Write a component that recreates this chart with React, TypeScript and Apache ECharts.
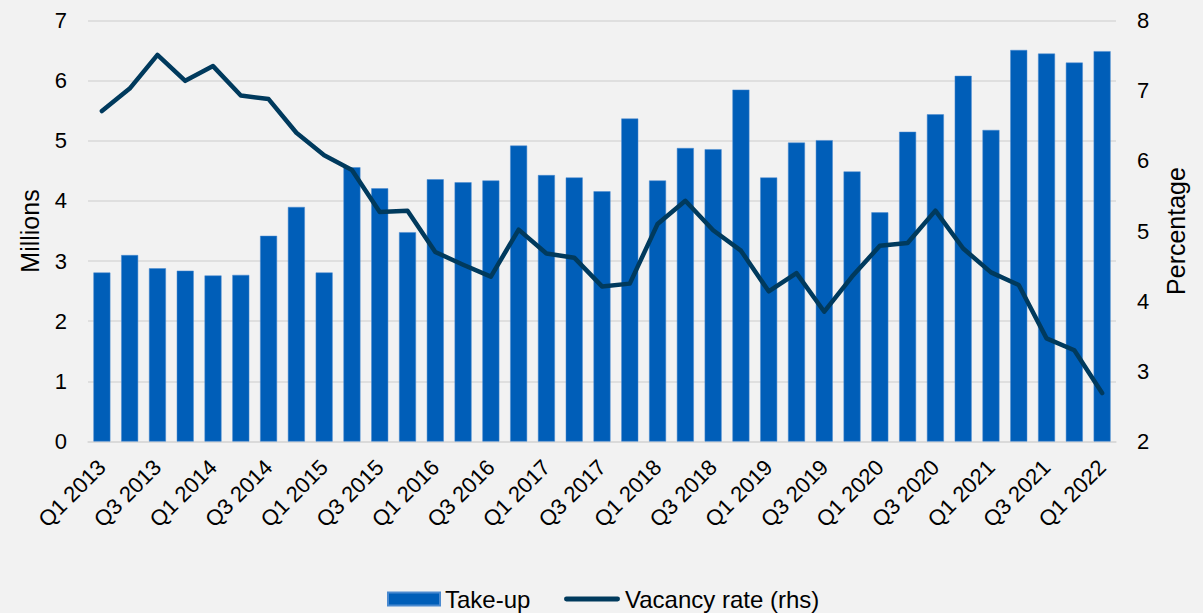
import React, { useEffect, useRef } from "react";
import * as echarts from "echarts";

const quarters: string[] = [];
const years = [2013, 2014, 2015, 2016, 2017, 2018, 2019, 2020, 2021, 2022];
for (const y of years) {
  for (const q of [1, 2, 3, 4]) {
    if (y === 2022 && q > 1) break;
    quarters.push(`Q${q} ${y}`);
  }
}

const takeUp = [
  2.81, 3.1, 2.88, 2.84, 2.76, 2.77, 3.42, 3.9, 2.81, 4.56, 4.21, 3.48,
  4.36, 4.31, 4.34, 4.92, 4.43, 4.39, 4.16, 5.37, 4.34, 4.88, 4.86, 5.85,
  4.39, 4.97, 5.01, 4.49, 3.81, 5.15, 5.44, 6.08, 5.18, 6.51, 6.45, 6.3, 6.49,
];

const vacancy = [
  6.71, 7.03, 7.51, 7.14, 7.35, 6.93, 6.88, 6.4, 6.08, 5.87, 5.27, 5.29,
  4.7, 4.52, 4.35, 5.02, 4.68, 4.62, 4.21, 4.25, 5.1, 5.43, 5.01, 4.72,
  4.14, 4.4, 3.85, 4.35, 4.79, 4.83, 5.29, 4.75, 4.41, 4.23, 3.47, 3.3, 2.69,
];

const FONT = "'Liberation Sans', Arial, sans-serif";
const LINE_ICON = "path://M2.5,0 L54.5,0 A2.5,2.5 0 0 1 54.5,5 L2.5,5 A2.5,2.5 0 0 1 2.5,0 Z";

const legendText = { fontSize: 24, fontFamily: FONT, color: "#000", lineHeight: 24 };

export default function App() {
  const ref = useRef<HTMLDivElement>(null);
  useEffect(() => {
    document.body.style.margin = "0";
    const chart = echarts.init(ref.current!, null, { renderer: "svg" });
    chart.setOption({
      animation: false,
      backgroundColor: "#F2F2F2",
      textStyle: { fontFamily: FONT, color: "#000" },
      grid: { left: 88, right: 87, top: 20.5, bottom: 171.5, containLabel: false },
      legend: [
        {
          top: 587,
          left: 387,
          padding: 0,
          itemWidth: 52,
          itemHeight: 13,
          textStyle: legendText,
          data: [{ name: "Take-up", icon: "rect" }],
        },
        {
          top: 587,
          left: 564,
          padding: 0,
          itemWidth: 56,
          itemHeight: 13,
          textStyle: legendText,
          data: [{ name: "Vacancy rate (rhs)", icon: LINE_ICON }],
        },
      ],
      xAxis: {
        type: "category",
        data: quarters,
        axisLine: { lineStyle: { color: "#D9D9D9", width: 1.5 } },
        axisTick: { show: false },
        axisLabel: {
          interval: 1,
          rotate: 45,
          fontSize: 22,
          fontFamily: FONT,
          color: "#000",
          margin: 22,
        },
      },
      yAxis: [
        {
          type: "value",
          min: 0,
          max: 7,
          interval: 1,
          name: "Millions",
          nameLocation: "middle",
          nameGap: 46,
          nameTextStyle: { fontSize: 25, fontFamily: FONT, color: "#000" },
          axisLabel: { fontSize: 22, fontFamily: FONT, color: "#000", margin: 21 },
          axisLine: { show: false },
          axisTick: { show: false },
          splitLine: { lineStyle: { color: "#D9D9D9", width: 1.5 } },
        },
        {
          type: "value",
          min: 2,
          max: 8,
          interval: 1,
          name: "Percentage",
          nameLocation: "middle",
          nameGap: 47,
          nameTextStyle: { fontSize: 25, fontFamily: FONT, color: "#000" },
          axisLabel: { fontSize: 22, fontFamily: FONT, color: "#000", margin: 21 },
          axisLine: { show: false },
          axisTick: { show: false },
          splitLine: { show: false },
        },
      ],
      series: [
        {
          name: "Take-up",
          type: "bar",
          data: takeUp,
          yAxisIndex: 0,
          barCategoryGap: "39%",
          itemStyle: { color: "#005EB8", borderColor: "#4A8AD0", borderWidth: 0.5 },
        },
        {
          name: "Vacancy rate (rhs)",
          type: "line",
          data: vacancy,
          yAxisIndex: 1,
          symbol: "none",
          lineStyle: { color: "#003A5D", width: 4.5, cap: "round", join: "round" },
          itemStyle: { color: "#003A5D" },
        },
      ],
    });
    return () => chart.dispose();
  }, []);
  return (
    <div
      ref={ref}
      style={{ position: "fixed", left: 0, top: 0, width: 1203, height: 613 }}
    />
  );
}
